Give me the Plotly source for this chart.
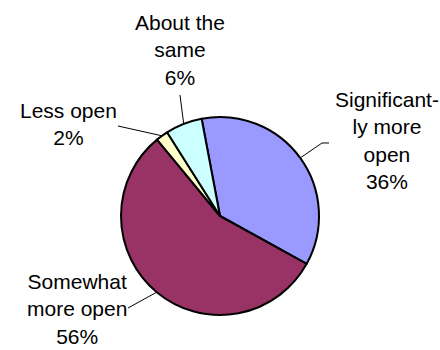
import math
import plotly.graph_objects as go

# Survey answers and their shares (percent)
categories = ["Significantly more open", "Somewhat more open", "Less open", "About the same"]
values = [36, 56, 2, 6]
# How each category name is wrapped in its label
label_lines = [
    ["Significant-", "ly more", "open"],
    ["Somewhat", "more open"],
    ["Less open"],
    ["About the", "same"],
]
colors = ["#9999FF", "#993366", "#FFFFCC", "#CCFFFF"]

W, H = 440, 350
CX, CY, R = 220, 216, 99          # pie centre and radius in pixels
ROTATION = -10.7                   # start of the first slice, degrees clockwise from 12 o'clock

# label block centres and leader-line anchor points (pixels)
label_pos = [(387, 140), (77, 309), (68, 124), (180, 50)]
leader_ends = [
    [(329, 143), (322, 143)],
    [(128, 308)],
    [(118, 126)],
    [(180, 95)],
]

fig = go.Figure(
    go.Pie(
        labels=categories,
        values=values,
        sort=False,
        direction="clockwise",
        rotation=ROTATION,
        marker=dict(colors=colors, line=dict(color="black", width=2)),
        textinfo="none",
        hoverinfo="label+percent",
        showlegend=False,
        domain=dict(x=[(CX - R) / W, (CX + R) / W], y=[(H - CY - R) / H, (H - CY + R) / H]),
    )
)


def px_to_paper(x, y):
    return x / W, 1 - y / H


total = sum(values)
cum = 0
annotations = []
shapes = []
for i, v in enumerate(values):
    mid = ROTATION + 360 * (cum + v / 2) / total
    cum += v
    a = math.radians(mid)
    ex, ey = CX + R * math.sin(a), CY - R * math.cos(a)
    pts = leader_ends[i] + [(ex, ey)]
    path = "M " + " L ".join(f"{px_to_paper(x, y)[0]:.5f},{px_to_paper(x, y)[1]:.5f}" for x, y in pts)
    shapes.append(dict(type="path", xref="paper", yref="paper", path=path,
                       line=dict(color="black", width=1)))
    pct = round(100 * v / total)
    text = "<br>".join(label_lines[i] + [f"{pct}%"])
    lx, ly = px_to_paper(*label_pos[i])
    annotations.append(dict(x=lx, y=ly, xref="paper", yref="paper", text=text,
                            showarrow=False, xanchor="center", yanchor="middle",
                            align="center",
                            font=dict(family="Liberation Sans, Arial", size=21, color="black")))

fig.update_layout(
    width=W,
    height=H,
    margin=dict(l=0, r=0, t=0, b=0),
    paper_bgcolor="white",
    plot_bgcolor="white",
    annotations=annotations,
    shapes=shapes,
)

fig.write_html("out.html")
